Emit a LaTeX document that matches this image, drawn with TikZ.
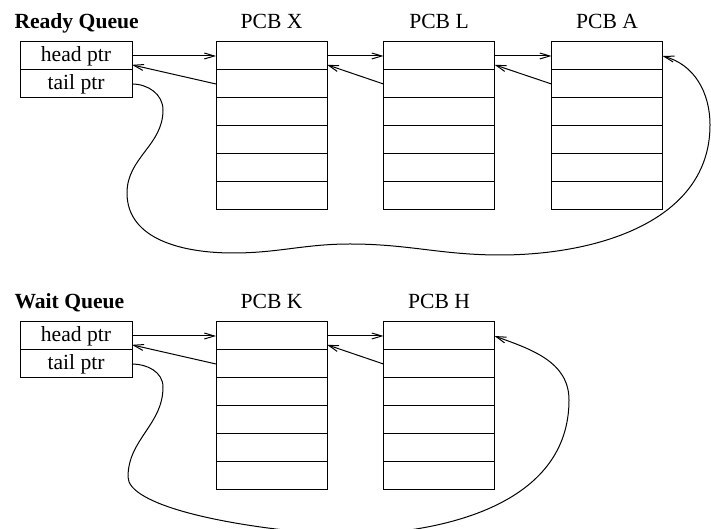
\documentclass[tikz,border=0pt]{standalone}
\usepackage{fontspec}
\setmainfont{Liberation Serif}
\usepackage{tikz}
\usetikzlibrary{arrows.meta}

\begin{document}
\begin{tikzpicture}[x=0.5pt,y=0.5pt,line width=0.5pt,
    cell/.style={draw,rectangle,inner sep=0pt,outer sep=0pt,minimum width=55.5pt,minimum height=14pt},
    qcell/.style={cell,minimum width=56pt,font=\fontsize{10.8}{13}\selectfont},
    title/.style={anchor=base,inner sep=0pt,font=\fontsize{10.8}{13}\selectfont},
    qtitle/.style={anchor=base west,inner sep=0pt,font=\fontsize{10.8}{13}\selectfont\bfseries},
    ptr/.style={-{Straight Barb[length=5pt,width=3pt]}}]
    \useasboundingbox (0,0) rectangle (711,529);
    % ready queue
    \node[qtitle] (rqlab) at (14,500) {Ready Queue};
    \node[qcell] (rqh) at (76,473) {head ptr};
    \node[qcell] (rqt) at (76,445) {tail ptr};
    \foreach \c/\x in {X/271.5, L/439, A/607} {
      \node[title] (lab\c) at (\x,500) {PCB \c};
      \foreach \r in {1,...,6}
        \node[cell] (\c\r) at (\x,501-28*\r) {};
    }
    % wait queue
    \node[qtitle] (wqlab) at (14,220) {Wait Queue};
    \node[qcell] (wqh) at (76,193) {head ptr};
    \node[qcell] (wqt) at (76,165) {tail ptr};
    \foreach \c/\x in {K/271.5, H/439} {
      \node[title] (lab\c) at (\x,220) {PCB \c};
      \foreach \r in {1,...,6}
        \node[cell] (\c\r) at (\x,221-28*\r) {};
    }
    % links
    \draw[ptr] (rqh.east) -- (X1.west);
    \draw[ptr] (X2.west) -- (rqh.-9);
    \draw[ptr] (X1.east) -- (L1.west);
    \draw[ptr] (L2.west) -- (X1.-9);
    \draw[ptr] (L1.east) -- (A1.west);
    \draw[ptr] (A2.west) -- (L1.-9);
    \draw[ptr] (wqh.east) -- (K1.west);
    \draw[ptr] (K2.west) -- (wqh.-9);
    \draw[ptr] (K1.east) -- (H1.west);
    \draw[ptr] (H2.west) -- (K1.-9);
    % tail pointers
    \coordinate (r1) at (163,419);
    \coordinate (r2) at (127,336);
    \coordinate (r3) at (233,276);
    \coordinate (r4) at (350,285);
    \coordinate (r5) at (500,274);
    \coordinate (r6) at (710,404);
    \draw[ptr] (rqt.east) to[out=0,in=90] (r1) to[out=-90,in=90] (r2)
      to[out=-90,in=180] (r3) to[out=0,in=180] (r4) to[out=0,in=180] (r5)
      to[out=0,in=-90] (r6) to[out=90,in=-15] (A1.east);
    \coordinate (w1) at (163,142);
    \coordinate (w2) at (128,52);
    \coordinate (w3) at (338,-6);
    \coordinate (w4) at (569,129);
    \draw[ptr] (wqt.east) to[out=0,in=90] (w1) to[out=-90,in=90] (w2)
      to[out=-90,in=176,out distance=13.5pt,in distance=59pt] (w3)
      to[out=0,in=-90] (w4) to[out=90,in=-20] (H1.east);
\end{tikzpicture}
\end{document}
